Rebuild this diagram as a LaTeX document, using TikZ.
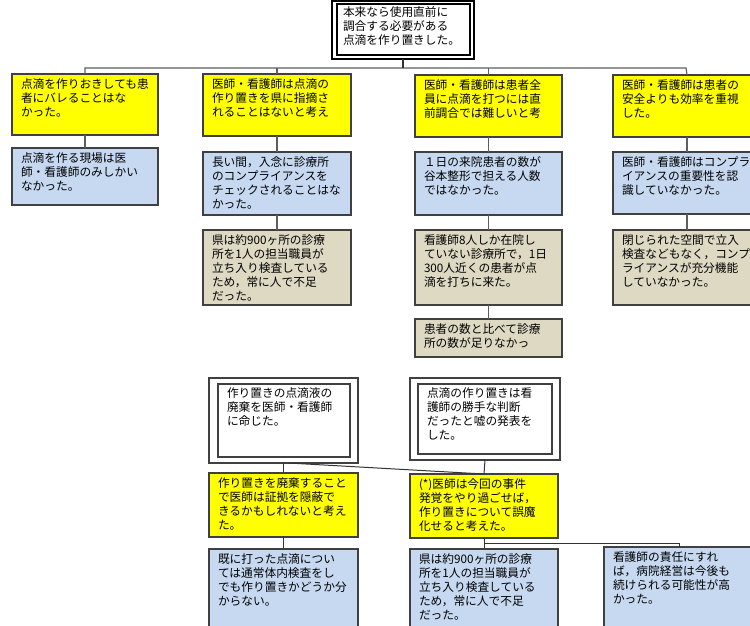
\documentclass[tikz,border=0pt]{standalone}
\usepackage{fontspec}
\newfontfamily\jp{Noto Sans CJK JP}
\definecolor{ylw}{HTML}{FFFF00}
\definecolor{lblue}{HTML}{C6D9F1}
\definecolor{ltan}{HTML}{DDD9C3}
\definecolor{bord}{HTML}{404040}
\definecolor{conn}{HTML}{5E5E5E}
\tikzset{
  basebox/.style={draw=bord, line width=1.2pt, inner sep=0pt, outer sep=0pt, anchor=north west},
  yellowbox/.style={basebox, fill=ylw},
  bluebox/.style={basebox, fill=lblue},
  tanbox/.style={basebox, fill=ltan},
  whitebox/.style={basebox, fill=white},
  topbox/.style={basebox, draw=black, fill=white},
  innerframe/.style={draw=bord, line width=1.1pt},
  conline/.style={draw=conn, line width=1.2pt},
  darkline/.style={draw=black!80, line width=1pt}
}
% #1 style, #2 name, #3 x, #4 y, #5 w, #6 h, #7 xpad, #8 ypad, #9 text
\newcommand{\mybox}[9]{%
  \node[#1, minimum width=#5pt, minimum height=#6pt] (#2) at (#3,#4)
  {\parbox[t][\dimexpr#6pt-#8pt-#8pt\relax][t]{\dimexpr#5pt-#7pt-#7pt\relax}{\raggedright\jp\fontsize{11.7pt}{13.8pt}\selectfont #9}};}
\begin{document}
\begin{tikzpicture}[x=1pt,y=-1pt]
\useasboundingbox (0,0) rectangle (750,625);
\clip (0,0) rectangle (750,625);
\fill[white] (0,0) rectangle (750,625);

% top box
\mybox{topbox}{top}{332}{1}{142}{58}{11}{6}{本来なら使用直前に\\調合する必要がある\\点滴を作り置きした。}
\draw[draw=black, line width=1.1pt] ([xshift=5pt,yshift=-3pt]top.north west) rectangle ([xshift=-4pt,yshift=4pt]top.south east);

% column 1
\mybox{yellowbox}{y1}{12}{74}{146}{61}{9}{5}{点滴を作りおきしても患\\者にバレることはな\\かった。}
\mybox{bluebox}{b1}{12}{148}{146}{57}{9}{5}{点滴を作る現場は医\\師・看護師のみしかい\\なかった。}

% column 2
\mybox{yellowbox}{y2}{203}{74}{148}{62}{9}{5}{医師・看護師は点滴の\\作り置きを県に指摘さ\\れることはないと考え}
\mybox{bluebox}{b2}{203}{152}{148}{63}{9}{5}{長い間，入念に診療所\\のコンプライアンスを\\チェックされることはな\\かった。}
\mybox{tanbox}{t2}{203}{230}{148}{75}{9}{5}{県は約900ヶ所の診療\\所を1人の担当職員が\\立ち入り検査している\\ため，常に人で不足\\だった。}

% column 3
\mybox{yellowbox}{y3}{415}{75}{147}{62}{9}{5}{医師・看護師は患者全\\員に点滴を打つには直\\前調合では難しいと考}
\mybox{bluebox}{b3}{415}{152}{147}{63}{9}{5}{１日の来院患者の数が\\谷本整形で担える人数\\ではなかった。}
\mybox{tanbox}{t3}{415}{230}{147}{75}{9}{5}{看護師8人しか在院し\\ていない診療所で，1日\\300人近くの患者が点\\滴を打ちに来た。}
\mybox{tanbox}{t3b}{415}{319}{147}{38}{9}{5}{患者の数と比べて診療\\所の数が足りなかっ}

% column 4
\mybox{yellowbox}{y4}{613}{75}{148}{62}{9}{5}{医師・看護師は患者の\\安全よりも効率を重視\\した。}
\mybox{bluebox}{b4}{613}{152}{148}{62}{9}{5}{医師・看護師はコンプラ\\イアンスの重要性を認\\識していなかった。}
\mybox{tanbox}{t4}{613}{230}{148}{75}{9}{5}{閉じられた空間で立入\\検査などもなく，コンプ\\ライアンスが充分機能\\していなかった。}

% bus
\coordinate (bl) at (85,68);
\coordinate (br) at (686,68);
\draw[conline] (y1.north) -- (bl) -- (br) -- (y4.north);
\draw[darkline, line width=1.3pt] (top.south) -- (top.south |- bl);
\draw[conline] (y2.north) -- (y2.north |- bl);
\draw[conline] (y3.north) -- (y3.north |- bl);
\draw[conline] (y1.south) -- (b1.north);
\draw[conline] (y2.south) -- (b2.north);
\draw[conline] (b2.south) -- (t2.north);
\draw[conline] (y3.south) -- (b3.north);
\draw[conline] (b3.south) -- (t3.north);
\draw[conline] (t3.south) -- (t3b.north);
\draw[conline] (y4.south) -- (b4.north);
\draw[conline] (b4.south) -- (t4.north);

% bottom section
\mybox{whitebox}{wa}{209}{378}{149}{85}{18}{10}{作り置きの点滴液の\\廃棄を医師・看護師\\に命じた。}
\draw[innerframe] ([xshift=9pt,yshift=-6pt]wa.north west) rectangle ([xshift=-8pt,yshift=6pt]wa.south east);
\mybox{whitebox}{wb}{410}{378}{150}{82}{17}{10}{点滴の作り置きは看\\護師の勝手な判断\\だったと嘘の発表を\\した。}
\draw[innerframe] ([xshift=8pt,yshift=-6pt]wb.north west) rectangle ([xshift=-8pt,yshift=6pt]wb.south east);

\mybox{yellowbox}{ya}{209}{473}{149}{64}{9}{5}{作り置きを廃棄すること\\で医師は証拠を隠蔽で\\きるかもしれないと考え\\た。}
\mybox{yellowbox}{yb}{410}{474}{148}{64}{9}{5}{(*)医師は今回の事件\\発覚をやり過ごせば，\\作り置きについて誤魔\\化せると考えた。}
\mybox{bluebox}{ba}{209}{549}{149}{95}{9}{5}{既に打った点滴につい\\ては通常体内検査をし\\でも作り置きかどうか分\\からない。}
\mybox{bluebox}{bb}{410}{549}{148}{95}{9}{5}{県は約900ヶ所の診療\\所を1人の担当職員が\\立ち入り検査している\\ため，常に人で不足\\だった。}
\mybox{bluebox}{bc}{604}{547}{150}{95}{9}{5}{看護師の責任にすれ\\ば，病院経営は今後も\\続けられる可能性が高\\かった。}

\draw[darkline] (wa.south) -- (ya.north);
\draw[darkline] ([xshift=5pt]wa.south) -- (yb.north);
\draw[darkline] (wb.south) -- (yb.north);
\draw[darkline] (ya.south) -- (ba.north);
\draw[darkline] (yb.south) -- (bb.north);
\coordinate (jn) at (484,543);
\draw[darkline] (jn) -| (bc.north);
\end{tikzpicture}
\end{document}
